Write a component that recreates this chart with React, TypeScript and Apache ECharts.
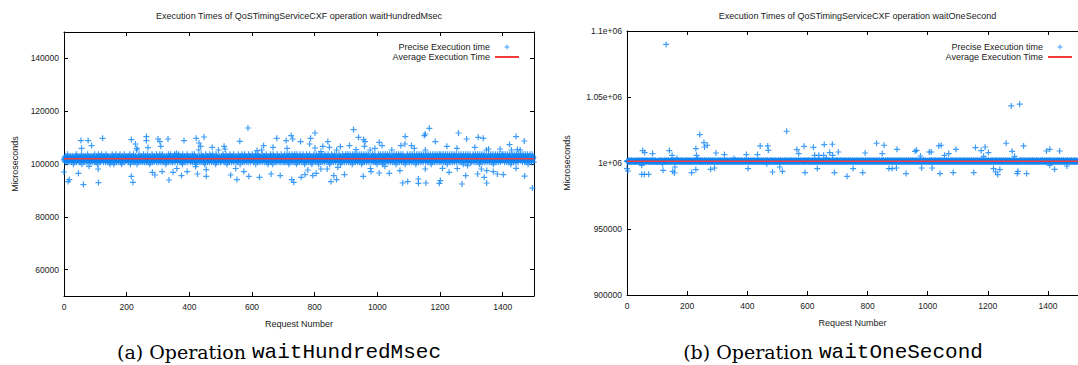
import React, { useEffect, useRef } from 'react';
import * as echarts from 'echarts';

// ---------- data ----------
const X_TICKS = [0, 200, 400, 600, 800, 1000, 1200, 1400];
const X_MAX_A = 1500;
const X_MAX_B = 1500;
const Y_MIN_A = 50000;
const Y_MAX_A = 150000;
const Y_TICKS_A = [60000, 80000, 100000, 120000, 140000];
const Y_MIN_B = 900000;
const Y_MAX_B = 1100000;
const Y_TICKS_B = [900000, 950000, 1000000, 1050000, 1100000];
const Y_LABELS_B = ['900000', '950000', '1e+06', '1.05e+06', '1.1e+06'];

const TITLE_A = 'Execution Times of QoSTimingServiceCXF operation waitHundredMsec';
const TITLE_B = 'Execution Times of QoSTimingServiceCXF operation waitOneSecond';
const CAPTION_A = ['(a) Operation ', 'waitHundredMsec'];
const CAPTION_B = ['(b) Operation ', 'waitOneSecond'];
const SERIES_POINTS = 'Precise Execution time';
const SERIES_AVG = 'Average Execution Time';

const AVG_A = 102000;
const AVG_B = 1001300;

// dense band: one digit per request, digit -> offset from base
const BAND_BASE_A = 101900;
const OFFSETS_A = [-3600, -2000, -1200, -700, -250, 200, 650, 1100, 1800, 3400];
const BAND_A =
  '4635274536284735264537462537461532647538264735462537264581536472536475263548273645372546372536475283' +
  '5362745163827453627485364725364752836475263745216374528364715263748253647253674825361472536485273645' +
  '3746527364851273645372846352736491536274836452736452738462537462538472635417263548273645273645382746' +
  '6253748263547283645273645137264538274635827364527364582736450362748536274536271853627453627458362745' +
  '4537263548273645827361452736459273645283746527364152837465273645283746527384652736451827364529376452' +
  '5273645837264527384615273645283746527364582734650273645283746517364582736452837465273645283745627364' +
  '3846527364581736452837465273645928374652736458273641527364583726451837465273645283746527364528374652' +
  '6372845362748536271845362745836274538627451836274536284753627458362714536284753627458362745136274583' +
  '4536284753627148536274583627453628475362745836271453628475362745836274953627458362714536284753627458' +
  '5274638527463852746318527463852746385274638527463815274638527463852746385274690527463852746385274631' +
  '3648527364852736418527364852736485273648527364952736485273641852736485273648527364852736415273648527' +
  '6452837465283746528374615283746528374652837465283746592837465283746528371465283746528374652837465283' +
  '4738265473826547382654718265473826547382654738265473826054738265473826547318265473826547382654738265' +
  '5263748526374852637485263718526374852637485263749526374852637485263748152637485263748526374852637485' +
  '3847562384756238475623847516238475623847562384756238475693847562384756238475623841756238475623847562';

const BAND_BASE_B = 1001300;
const OFFSETS_B = [-3500, -1800, -800, -400, -150, 100, 350, 700, 2200, 4500];
const BAND_B =
  '5463547364536475364537465345637453647536453746354637453647364537465364753645364753645376453645736453' +
  '4536453746354637451364537465364753645374653645374653645736453764538465374653645736453746536453746537' +
  '6453746354637465364573645376453645738645364753645374653645736453764536457364537645364573645364753645' +
  '3645736453764536457364536475364537465364537645364573645386453764536457364537645364573645364753645376' +
  '5364753645376453645736453764536457364537645364573645376453645736413764536457364537645364573645376453' +
  '4653745364573645376453645736453764536457364536475364537465364537645364573645376453645736453764536457' +
  '6453764536457364537645364573645376453645736453764536457364537648364573645376453645736453764536457364' +
  '3764536457364537645364573645376453645736453764536457364537645364573645376453645736453764536457364537' +
  '5364573645376453645736453764536457364537645364573645376453645736453764536457364537645364573645376453' +
  '4573645376453645736453764536457364537645364573645376453645736453764536457364537645364573645376453645' +
  '6453645736453764536457364537645364573645376453645736453764536457364537645364573645376453645736453764' +
  '3645736453764536457364537645364573645376453645736453764536457364537645364573645376453645736453764536' +
  '5376453645736453764536457364537645364573645376453645736453764536457364537645364573645376453645736453' +
  '4536457364537645364573645376453645736453764536457364537645364573645376453645736453764536457364537645' +
  '6457364537645364573645376453645736453764536457364537645364573645376453645736453764536457364537645364';

// clearly separated points: [request, microseconds]
const OUTLIERS_A = [
  [0, 96970], [13, 93330], [17, 94090], [46, 96480], [54, 108860], [56, 105950], [62, 92200], [77, 108860],
  [80, 99130], [88, 106970], [109, 98110], [110, 92950], [123, 109740], [215, 109240], [215, 95340], [220, 93070],
  [228, 107580], [233, 105950], [263, 110380], [263, 108860], [268, 106210], [282, 96860], [290, 95830], [300, 109470],
  [306, 108490], [309, 106700], [313, 97120], [332, 109470], [335, 93940], [348, 96860], [359, 104050], [375, 95610],
  [383, 108860], [393, 97120], [420, 99020], [422, 109740], [426, 96210], [431, 107950], [436, 106700], [447, 110230],
  [454, 97880], [454, 95340], [473, 106330], [511, 106700], [514, 105680], [532, 95830], [552, 94090], [561, 108600],
  [574, 97120], [587, 113640], [590, 95340], [616, 105080], [624, 94960], [637, 106970], [661, 96210], [667, 106330],
  [679, 109740], [690, 95610], [709, 108860], [712, 105950], [725, 110760], [727, 94090], [730, 109470], [733, 93070],
  [755, 108490], [757, 94960], [769, 95980], [778, 97730], [784, 107580], [787, 109740], [794, 95610], [801, 111740],
  [801, 106060], [805, 96480], [820, 104700], [820, 98110], [826, 106700], [840, 98110], [842, 108490], [847, 106330],
  [852, 93330], [861, 95610], [870, 94090], [874, 98750], [882, 106590], [895, 95980], [911, 106970], [924, 113030],
  [932, 105450], [940, 110110], [955, 95340], [956, 109240], [959, 106700], [961, 108490], [980, 97120], [992, 105950],
  [1006, 108220], [1006, 96590], [1015, 106970], [1024, 99130], [1038, 96480], [1072, 97500], [1075, 106970], [1081, 92800],
  [1088, 107580], [1089, 110380], [1097, 93330], [1109, 106970], [1118, 105950], [1131, 94320], [1131, 92690], [1150, 110760],
  [1153, 111360], [1153, 98110], [1155, 92800], [1166, 113520], [1185, 108490], [1198, 92690], [1201, 93710], [1208, 98370],
  [1222, 106700], [1229, 96860], [1254, 105950], [1259, 111740], [1270, 92420], [1282, 95610], [1285, 109470], [1288, 99390],
  [1311, 106330], [1320, 96210], [1322, 110110], [1332, 98110], [1338, 109740], [1341, 94960], [1349, 92800], [1349, 97500],
  [1355, 105680], [1370, 97120], [1383, 96210], [1392, 105680], [1402, 95980], [1422, 107350], [1428, 105300], [1443, 110380],
  [1443, 98370], [1447, 105450], [1469, 108710], [1470, 95420], [1495, 90870],
];

const OUTLIERS_B = [
  [0, 995750], [3, 993930], [49, 991430], [49, 998250], [52, 1009410], [58, 991430], [59, 1007890], [72, 991430],
  [85, 1007130], [120, 994460], [130, 1089830], [141, 1009410], [150, 1005840], [152, 993700], [158, 992410], [159, 996970],
  [215, 992720], [229, 1010930], [229, 994990], [231, 1005840], [242, 1021550], [256, 1015480], [258, 1012140], [267, 1013430],
  [278, 995220], [291, 996220], [296, 1007590], [324, 1006370], [397, 1006370], [403, 995750], [434, 1006370], [443, 1012900],
  [468, 1012900], [470, 1009640], [484, 993170], [508, 996970], [517, 993700], [531, 1024050], [565, 1010170], [571, 1007130],
  [589, 1012670], [592, 992720], [620, 1011910], [624, 1005840], [633, 995750], [638, 1005840], [654, 1005840], [656, 1013960],
  [674, 1007890], [683, 1014190], [684, 1005840], [690, 992720], [703, 1008350], [732, 989910], [752, 995750], [784, 992720],
  [792, 1007590], [830, 1014950], [849, 1007130], [855, 1013430], [871, 995750], [882, 995750], [896, 996210], [898, 1010390],
  [928, 991960], [958, 1008880], [963, 1009640], [976, 1005310], [980, 996210], [1005, 1008350], [1012, 1008350], [1015, 996210],
  [1037, 1012900], [1041, 991960], [1045, 1013430], [1056, 1005840], [1070, 1007130], [1085, 992720], [1094, 1010390], [1153, 992720],
  [1159, 1011680], [1178, 1009410], [1186, 1005080], [1191, 1012140], [1202, 1007890], [1219, 995750], [1226, 993170], [1233, 991200],
  [1240, 994990], [1261, 1014950], [1278, 1043250], [1281, 1008880], [1289, 1005080], [1298, 991960], [1300, 993700], [1306, 1044540],
  [1319, 1012900], [1329, 991960], [1395, 1009100], [1406, 1010390], [1406, 998250], [1422, 995220], [1439, 1009100], [1463, 997720],
];

// ---------- style ----------
const BLUE = '#0f84f5';
const RED = '#f23c3c';
const TXT = '#222';
const SANS = '"Liberation Sans", Arial, Helvetica, sans-serif';
const PLUS = 'path://M2,0H3V2H5V3H3V5H2V3H0V2H2Z';
const LINE_ICON = 'path://M0,0H24V2H0Z';

function bandPoints(band: string, base: number, offsets: number[]) {
  return band.split('').map((c, i) => [i, base + offsets[Number(c)]]);
}

const plain = (v: number) => String(v);

const AX_LINE = { show: true, onZero: false, lineStyle: { color: '#000', width: 1 } };

function xAxes(grid: number, max: number) {
  const bottom = {
    gridIndex: grid, type: 'value', min: 0, max, position: 'bottom',
    axisLine: AX_LINE,
    axisTick: { show: true, inside: true, length: 4, customValues: X_TICKS, lineStyle: { color: '#000' } },
    axisLabel: { show: true, customValues: X_TICKS, fontSize: 8.5, color: TXT, fontFamily: SANS, margin: 6, formatter: plain },
    splitLine: { show: false },
    name: 'Request Number', nameLocation: 'middle', nameGap: 23,
    nameTextStyle: { fontSize: 9, color: TXT, fontFamily: SANS },
  };
  const top = {
    gridIndex: grid, type: 'value', min: 0, max, position: 'top',
    axisLine: AX_LINE,
    axisTick: { show: true, inside: true, length: 4, customValues: X_TICKS, lineStyle: { color: '#000' } },
    axisLabel: { show: false },
    splitLine: { show: false },
  };
  return [bottom, top];
}

function legend(right: number) {
  return {
    data: [{ name: SERIES_POINTS, icon: PLUS }, { name: SERIES_AVG, icon: LINE_ICON }],
    orient: 'vertical', align: 'right', right, top: 37,
    itemWidth: 24, itemHeight: 5, itemGap: 0, selectedMode: false,
    textStyle: { fontSize: 9, color: TXT, fontFamily: SANS, lineHeight: 10 },
  };
}

function caption(x: number, parts: string[]) {
  return {
    type: 'text', x, y: 352,
    style: {
      text: `{s|${parts[0]}}{m|${parts[1]}}`,
      rich: {
        s: { fontFamily: '"DejaVu Serif", serif', fontSize: 19, fill: '#000' },
        m: { fontFamily: '"Liberation Mono", monospace', fontSize: 21, fill: '#000' },
      },
      align: 'center', verticalAlign: 'middle', textAlign: 'center', textVerticalAlign: 'middle',
    },
  };
}

function title(x: number, text: string) {
  return {
    type: 'text', x, y: 15.5,
    style: {
      text, fontSize: 9, fontFamily: SANS, fill: TXT,
      align: 'center', verticalAlign: 'middle', textAlign: 'center', textVerticalAlign: 'middle',
    },
  };
}

export default function App() {
  const ref = useRef<HTMLDivElement>(null);
  useEffect(() => {
    document.body.style.margin = '0';
    const chart = echarts.init(ref.current!, null, { renderer: 'svg' });
    const dataA = [...bandPoints(BAND_A, BAND_BASE_A, OFFSETS_A), ...OUTLIERS_A];
    const dataB = [...bandPoints(BAND_B, BAND_BASE_B, OFFSETS_B), ...OUTLIERS_B];
    const option: any = {
      animation: false,
      backgroundColor: '#fff',
      grid: [
        { left: 64, top: 32, width: 470, height: 264 },
        { left: 627, top: 31, width: 461, height: 264 },
      ],
      xAxis: [...xAxes(0, X_MAX_A), ...xAxes(1, X_MAX_B)],
      yAxis: [
        {
          gridIndex: 0, type: 'value', min: Y_MIN_A, max: Y_MAX_A, position: 'left',
          axisLine: AX_LINE,
          axisTick: { show: true, inside: true, length: 4, customValues: Y_TICKS_A, lineStyle: { color: '#000' } },
          axisLabel: { customValues: Y_TICKS_A, fontSize: 8.5, color: TXT, fontFamily: SANS, margin: 5, formatter: plain },
          splitLine: { show: false },
          name: 'Microseconds', nameLocation: 'middle', nameGap: 45,
          nameTextStyle: { fontSize: 9, color: TXT, fontFamily: SANS },
        },
        {
          gridIndex: 0, type: 'value', min: Y_MIN_A, max: Y_MAX_A, position: 'right',
          axisLine: AX_LINE,
          axisTick: { show: true, inside: true, length: 4, customValues: Y_TICKS_A, lineStyle: { color: '#000' } },
          axisLabel: { show: false },
          splitLine: { show: false },
        },
        {
          gridIndex: 1, type: 'value', min: Y_MIN_B, max: Y_MAX_B, position: 'left',
          axisLine: AX_LINE,
          axisTick: { show: true, inside: true, length: 4, customValues: Y_TICKS_B, lineStyle: { color: '#000' } },
          axisLabel: {
            customValues: Y_TICKS_B, fontSize: 8.5, color: TXT, fontFamily: SANS, margin: 5,
            formatter: (v: number) => {
              const i = Y_TICKS_B.indexOf(v);
              return i >= 0 ? Y_LABELS_B[i] : String(v);
            },
          },
          splitLine: { show: false },
          name: 'Microseconds', nameLocation: 'middle', nameGap: 56,
          nameTextStyle: { fontSize: 9, color: TXT, fontFamily: SANS },
        },
      ],
      legend: [legend(554), legend(1)],
      series: [
        {
          type: 'scatter', name: SERIES_POINTS, xAxisIndex: 0, yAxisIndex: 0, data: dataA,
          symbol: PLUS, symbolSize: 6, itemStyle: { color: BLUE }, z: 2, large: false,
        },
        {
          type: 'line', name: SERIES_AVG, xAxisIndex: 0, yAxisIndex: 0,
          data: [[0, AVG_A], [X_MAX_A, AVG_A]], symbol: 'none',
          lineStyle: { color: RED, width: 1.5 }, itemStyle: { color: RED }, z: 3,
        },
        {
          type: 'scatter', name: SERIES_POINTS, xAxisIndex: 2, yAxisIndex: 2, data: dataB,
          symbol: PLUS, symbolSize: 6, itemStyle: { color: BLUE }, z: 2, large: false,
        },
        {
          type: 'line', name: SERIES_AVG, xAxisIndex: 2, yAxisIndex: 2,
          data: [[0, AVG_B], [X_MAX_B, AVG_B]], symbol: 'none',
          lineStyle: { color: RED, width: 1.5 }, itemStyle: { color: RED }, z: 3,
        },
      ],
      graphic: [
        title(299, TITLE_A),
        title(857.5, TITLE_B),
        caption(279, CAPTION_A),
        caption(833, CAPTION_B),
      ],
    };
    chart.setOption(option);
    return () => chart.dispose();
  }, []);
  return <div ref={ref} style={{ width: 1078, height: 365 }} />;
}
